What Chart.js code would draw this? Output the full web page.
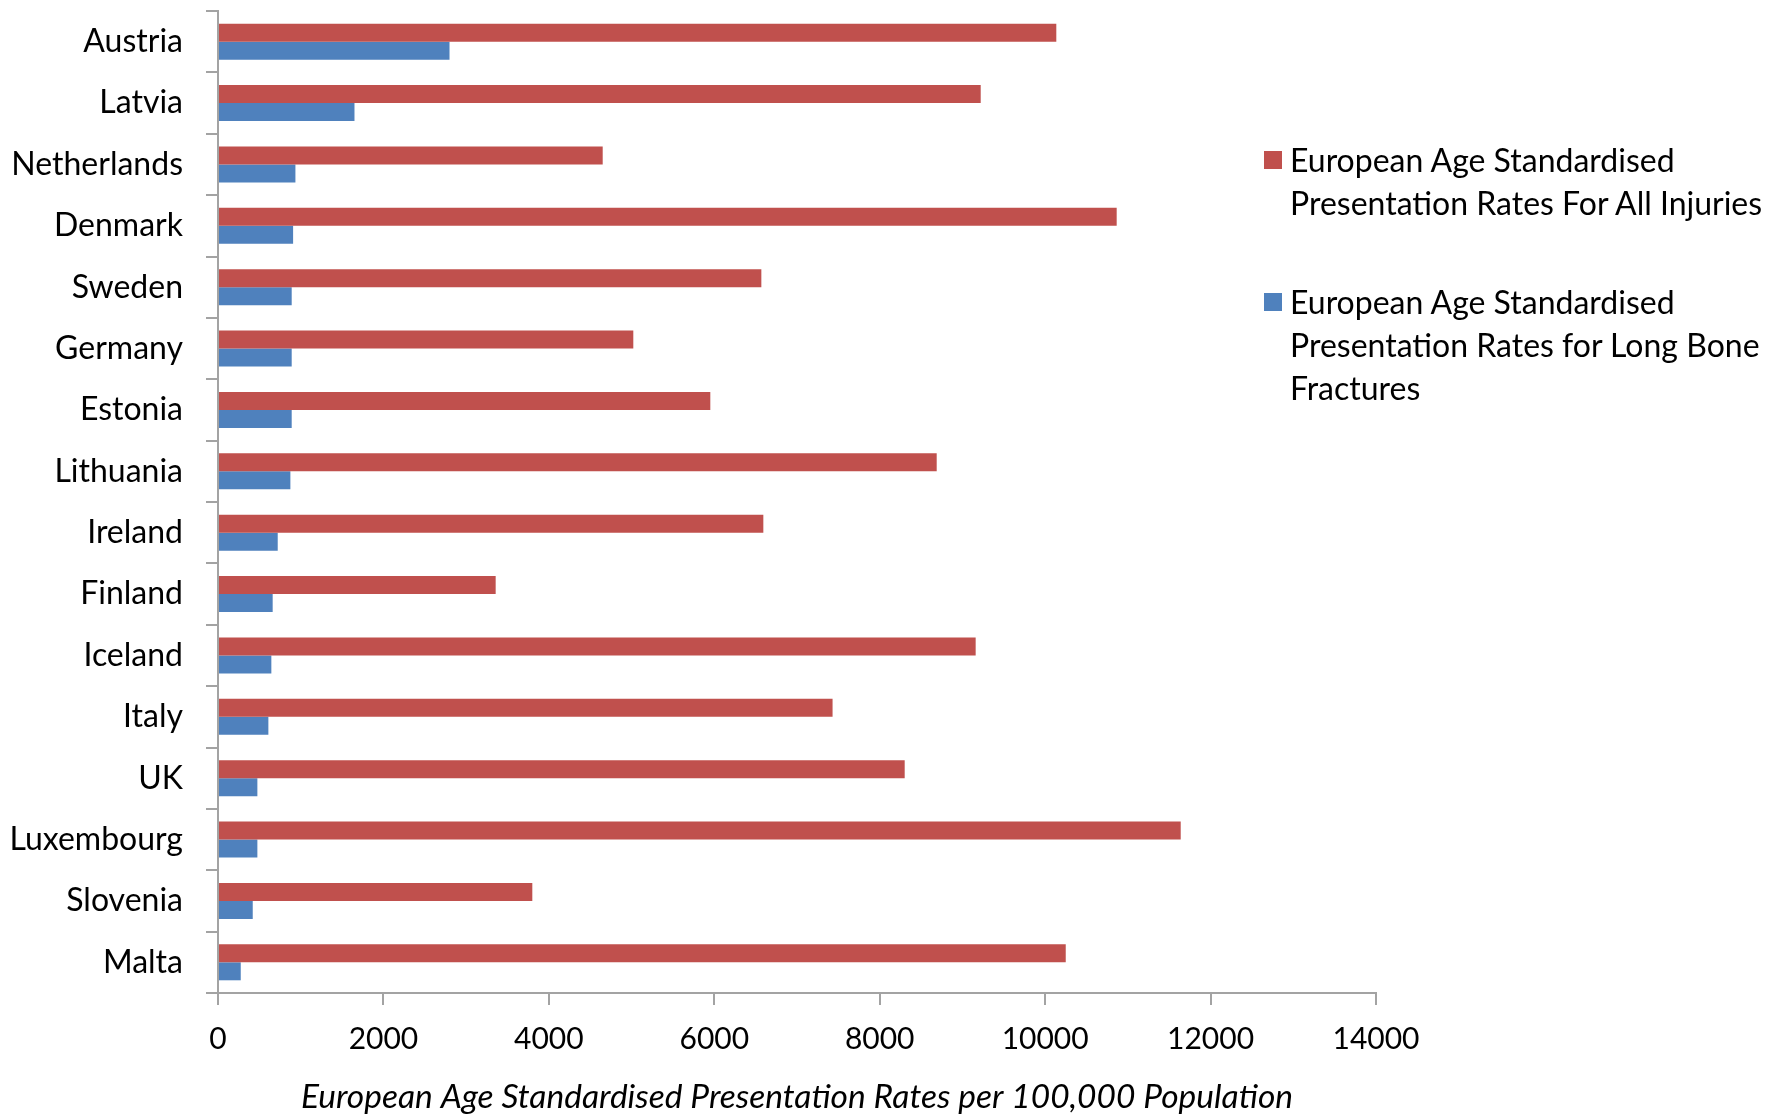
<!DOCTYPE html>
<html>
<head>
<meta charset="utf-8">
<title>Presentation rates by country</title>
<script src="https://cdn.jsdelivr.net/npm/chart.js@4.4.1/dist/chart.umd.min.js"></script>
<style>
  html, body { margin: 0; padding: 0; background: #fff; overflow: hidden; }
  #wrap { position: relative; width: 1767px; height: 1114px; }
  #legend { position: absolute; left: 1264px; top: 138px; font-family: Lato, sans-serif; font-size: 32px; line-height: 43px; color: #000; white-space: nowrap; }
  .item { position: relative; padding-left: 26px; margin-bottom: 56px; }
  .swatch { position: absolute; left: 0; top: 13px; width: 18px; height: 18px; }
</style>
</head>
<body>
<div id="wrap">
  <canvas id="chart" width="1767" height="1114"></canvas>
  <div id="legend"></div>
</div>
<script>
const countries = ['Austria', 'Latvia', 'Netherlands', 'Denmark', 'Sweden', 'Germany', 'Estonia', 'Lithuania',
  'Ireland', 'Finland', 'Iceland', 'Italy', 'UK', 'Luxembourg', 'Slovenia', 'Malta'];
const allInjuries = [10135, 9221, 4651, 10865, 6569, 5021, 5952, 8689, 6593, 3357, 9160, 7430, 8302, 11639, 3800, 10249];
const longBone = [2799, 1650, 936, 908, 891, 891, 891, 875, 722, 661, 645, 609, 476, 476, 420, 275];
const xTicks = [0, 2000, 4000, 6000, 8000, 10000, 12000, 14000];
const seriesLabels = [
  ['European Age Standardised', 'Presentation Rates For All Injuries'],
  ['European Age Standardised', 'Presentation Rates for Long Bone', 'Fractures']
];
const seriesColors = ['#C0504D', '#4F81BD'];
const xTitle = 'European Age Standardised Presentation Rates per 100,000 Population';

const axisGrey = '#a3a3a3';
const font = 'Lato, sans-serif';

const chart = new Chart(document.getElementById('chart'), {
  type: 'bar',
  data: {
    labels: countries,
    datasets: [
      { label: seriesLabels[0].join(' '), data: allInjuries, backgroundColor: seriesColors[0] },
      { label: seriesLabels[1].join(' '), data: longBone, backgroundColor: seriesColors[1] }
    ]
  },
  options: {
    indexAxis: 'y',
    responsive: false,
    animation: false,
    devicePixelRatio: 1,
    categoryPercentage: 0.586,
    barPercentage: 1,
    layout: { padding: { top: 11, right: 391, bottom: 0, left: 0 } },
    plugins: {
      legend: { display: false },
      tooltip: { enabled: false }
    },
    scales: {
      x: {
        min: 0,
        max: 14000,
        afterBuildTicks: s => { s.ticks = xTicks.map(v => ({ value: v })); },
        afterFit: s => { s.height = 121; },
        grid: { drawOnChartArea: false, tickLength: 12, color: axisGrey, lineWidth: 2 },
        border: { color: axisGrey, width: 2 },
        ticks: {
          color: '#000',
          font: { family: font, size: 30 },
          padding: 16,
          maxRotation: 0,
          autoSkip: false,
          callback: v => String(v)
        },
        title: {
          display: true,
          text: xTitle,
          color: '#000',
          font: { family: font, size: 33.5, style: 'italic', lineHeight: 1 },
          padding: { top: 0, bottom: 0 }
        }
      },
      y: {
        // keep the label padding from pushing the plot down
        afterFit: s => { s.width = 218; s.paddingTop = 0; s.paddingBottom = 0; },
        grid: { drawOnChartArea: false, tickLength: 12, color: axisGrey, lineWidth: 2 },
        border: { color: axisGrey, width: 2 },
        ticks: { color: '#000', font: { family: font, size: 32 }, padding: 23, autoSkip: false }
      }
    }
  }
});

// legend built from the datasets, kept beside the plot like the original
const legend = document.getElementById('legend');
chart.data.datasets.forEach((ds, i) => {
  const item = document.createElement('div');
  item.className = 'item';
  const sw = document.createElement('span');
  sw.className = 'swatch';
  sw.style.background = ds.backgroundColor;
  item.appendChild(sw);
  seriesLabels[i].forEach(line => {
    const d = document.createElement('div');
    d.textContent = line;
    item.appendChild(d);
  });
  legend.appendChild(item);
});
</script>
</body>
</html>
